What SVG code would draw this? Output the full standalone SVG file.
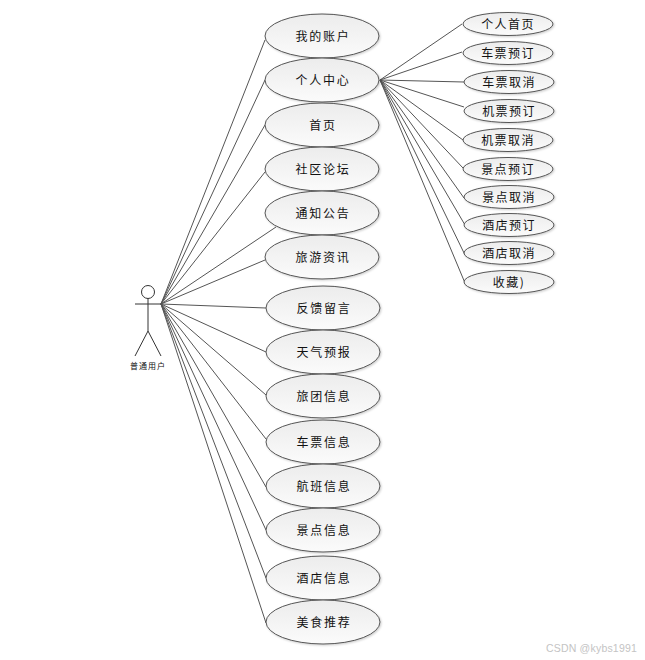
<svg xmlns="http://www.w3.org/2000/svg" width="645" height="660" viewBox="0 0 645 660">
<style>
text{font-family:"Noto Sans CJK SC","Liberation Sans",sans-serif;text-anchor:middle;fill:#111}
.a{font-size:12px;letter-spacing:1.7px}
.b{font-size:12px;letter-spacing:1.4px}
.u{fill:url(#g);stroke:#555;stroke-width:1;filter:url(#sh)}
.c line{stroke:#555;stroke-width:1}
.actor *{fill:none;stroke:#333;stroke-width:1}
</style>
<defs><linearGradient id="g" x1="0" y1="0" x2="0" y2="1"><stop offset="0" stop-color="#ececec"/><stop offset="1" stop-color="#fbfbfb"/></linearGradient>
<filter id="sh" x="-10%" y="-10%" width="120%" height="125%"><feDropShadow dx="1" dy="1" stdDeviation="0.800" flood-color="#000" flood-opacity="0.200"/></filter></defs>
<rect width="645" height="660" fill="#fff"/>
<g id="connectors" class="c">
<line x1="161" y1="304" x2="265" y2="40"/><line x1="161" y1="304" x2="265" y2="80"/><line x1="161" y1="304" x2="265" y2="125"/><line x1="161" y1="304" x2="265" y2="172"/><line x1="161" y1="304" x2="276" y2="227"/><line x1="161" y1="304" x2="265" y2="260"/><line x1="161" y1="304" x2="266" y2="308"/><line x1="161" y1="304" x2="266" y2="352"/><line x1="161" y1="304" x2="266" y2="395"/><line x1="161" y1="304" x2="266" y2="439"/><line x1="161" y1="304" x2="266" y2="487"/><line x1="161" y1="304" x2="266" y2="530"/><line x1="161" y1="304" x2="266" y2="578"/><line x1="161" y1="304" x2="266" y2="623"/>
<line x1="380" y1="80" x2="462" y2="24"/><line x1="380" y1="80" x2="462" y2="52"/><line x1="380" y1="80" x2="464" y2="82"/><line x1="380" y1="80" x2="464" y2="107"/><line x1="380" y1="80" x2="463" y2="140"/><line x1="380" y1="80" x2="463" y2="168"/><line x1="380" y1="80" x2="464" y2="198"/><line x1="380" y1="80" x2="465" y2="225"/><line x1="380" y1="80" x2="465" y2="255"/><line x1="380" y1="80" x2="465" y2="283"/>
</g>
<g id="actor" class="actor"><circle cx="148" cy="292" r="6.500"/><line x1="135" y1="304" x2="161" y2="304"/><line x1="148" y1="298.500" x2="148" y2="331"/><line x1="148" y1="331" x2="135" y2="356"/><line x1="148" y1="331" x2="161" y2="356"/></g>
<text x="148" y="369" style="font-size:8px;letter-spacing:1px">普通用户</text>
<g id="u1"><ellipse class="u" cx="322" cy="36" rx="57" ry="22"/><text class="a" x="323" y="41">我的账户</text></g>
<g id="u2"><ellipse class="u" cx="322" cy="80" rx="57" ry="22"/><text class="a" x="323" y="85">个人中心</text></g>
<g id="u3"><ellipse class="u" cx="322" cy="125" rx="57" ry="22"/><text class="a" x="323" y="130">首页</text></g>
<g id="u4"><ellipse class="u" cx="322" cy="169" rx="57" ry="22"/><text class="a" x="323" y="174">社区论坛</text></g>
<g id="u5"><ellipse class="u" cx="322" cy="213" rx="57" ry="22"/><text class="a" x="323" y="218">通知公告</text></g>
<g id="u6"><ellipse class="u" cx="322" cy="257" rx="57" ry="22"/><text class="a" x="323" y="262">旅游资讯</text></g>
<g id="u7"><ellipse class="u" cx="323" cy="308" rx="57" ry="22"/><text class="a" x="324" y="313">反馈留言</text></g>
<g id="u8"><ellipse class="u" cx="323" cy="352" rx="57" ry="22"/><text class="a" x="324" y="357">天气预报</text></g>
<g id="u9"><ellipse class="u" cx="323" cy="396" rx="57" ry="22"/><text class="a" x="324" y="401">旅团信息</text></g>
<g id="u10"><ellipse class="u" cx="323" cy="442" rx="57" ry="22"/><text class="a" x="324" y="447">车票信息</text></g>
<g id="u11"><ellipse class="u" cx="323" cy="486" rx="57" ry="22"/><text class="a" x="324" y="491">航班信息</text></g>
<g id="u12"><ellipse class="u" cx="323" cy="530" rx="57" ry="22"/><text class="a" x="324" y="535">景点信息</text></g>
<g id="u13"><ellipse class="u" cx="323" cy="578" rx="57" ry="22"/><text class="a" x="324" y="583">酒店信息</text></g>
<g id="u14"><ellipse class="u" cx="323" cy="622" rx="57" ry="22"/><text class="a" x="324" y="627">美食推荐</text></g>
<g id="v1"><ellipse class="u" cx="508" cy="24" rx="45" ry="11.500"/><text class="b" x="508" y="29">个人首页</text></g>
<g id="v2"><ellipse class="u" cx="508" cy="53" rx="45" ry="11.500"/><text class="b" x="508" y="58">车票预订</text></g>
<g id="v3"><ellipse class="u" cx="509" cy="82" rx="45" ry="11.500"/><text class="b" x="509" y="87">车票取消</text></g>
<g id="v4"><ellipse class="u" cx="509" cy="111" rx="45" ry="11.500"/><text class="b" x="509" y="116">机票预订</text></g>
<g id="v5"><ellipse class="u" cx="508" cy="140" rx="45" ry="11.500"/><text class="b" x="508" y="145">机票取消</text></g>
<g id="v6"><ellipse class="u" cx="508" cy="169" rx="45" ry="11.500"/><text class="b" x="508" y="174">景点预订</text></g>
<g id="v7"><ellipse class="u" cx="509" cy="197" rx="45" ry="11.500"/><text class="b" x="509" y="202">景点取消</text></g>
<g id="v8"><ellipse class="u" cx="509" cy="225" rx="45" ry="11.500"/><text class="b" x="509" y="230">酒店预订</text></g>
<g id="v9"><ellipse class="u" cx="509" cy="253" rx="45" ry="11.500"/><text class="b" x="509" y="258">酒店取消</text></g>
<g id="v10"><ellipse class="u" cx="509" cy="282" rx="45" ry="11.500"/><text class="b" x="509" y="287">收藏)</text></g>
<text x="591.500" y="652" style="font-family:'Liberation Sans',sans-serif;font-size:10.500px;fill:#c4c4c4;letter-spacing:.2px">CSDN @kybs1991</text>
</svg>
